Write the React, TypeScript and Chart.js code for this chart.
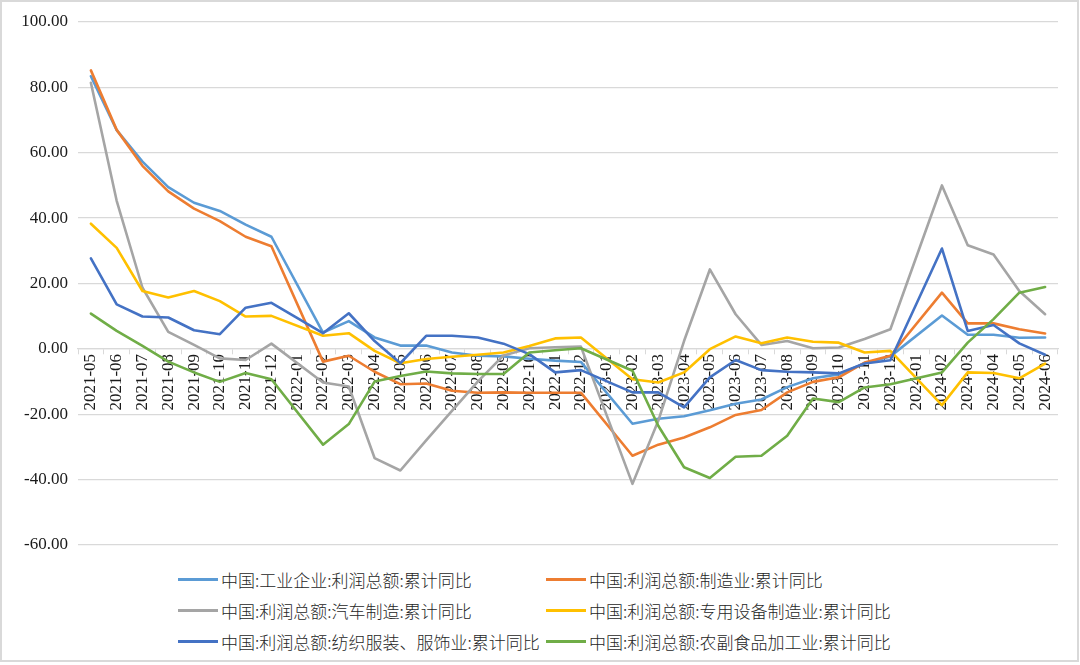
import React, { useEffect, useRef } from "react";
import { Chart, registerables } from "chart.js";

Chart.register(...registerables);

const months = [
  "2021-05", "2021-06", "2021-07", "2021-08", "2021-09", "2021-10", "2021-11", "2021-12",
  "2022-01", "2022-02", "2022-03", "2022-04", "2022-05", "2022-06", "2022-07", "2022-08",
  "2022-09", "2022-10", "2022-11", "2022-12", "2023-01", "2023-02", "2023-03", "2023-04",
  "2023-05", "2023-06", "2023-07", "2023-08", "2023-09", "2023-10", "2023-11", "2023-12",
  "2024-01", "2024-02", "2024-03", "2024-04", "2024-05", "2024-06",
];

const industrial = [
  83.4, 66.9, 57.3, 49.5, 44.7, 42.2, 38.0, 34.3,
  null, 5.0, 8.5, 3.5, 1.0, 1.0, -1.1, -2.1,
  -2.3, -3.0, -3.6, -4.0, null, -22.9, -21.4, -20.6,
  -18.8, -16.8, -15.5, -11.7, -9.0, -7.8, -4.4, -2.3,
  null, 10.2, 4.3, 4.3, 3.4, 3.5,
];

const manufacturing = [
  85.2, 67.0, 56.0, 48.2, 42.9, 39.1, 34.3, 31.4,
  null, -3.9, -2.1, -7.0, -10.8, -10.6, -12.8, -13.4,
  -13.3, -13.4, -13.4, -13.4, null, -32.7, -29.3, -27.1,
  -24.0, -20.2, -18.7, -13.3, -10.1, -8.7, -4.2, -2.1,
  null, 17.2, 7.8, 7.8, 6.0, 4.7,
];

const auto = [
  81.4, 45.3, 18.7, 5.2, 1.2, -2.9, -3.4, 1.6,
  null, -10.3, -11.5, -33.4, -37.2, -28.0, -19.0, -10.0,
  -2.0, 0.2, 0.5, 0.7, null, -41.3, -22.0, 2.4,
  24.3, 10.6, 1.2, 2.4, 0.2, 0.4, 3.0, 6.0,
  null, 50.0, 31.7, 28.9, 17.7, 10.6,
];

const equipment = [
  38.3, 30.9, 17.7, 15.7, 17.7, 14.6, 9.9, 10.1,
  null, 4.0, 4.8, -0.6, -4.4, -3.1, -2.4, -1.8,
  -1.1, 0.9, 3.2, 3.5, null, -9.3, -10.3, -7.2,
  -0.1, 3.8, 1.7, 3.5, 2.2, 1.9, -1.1, -0.6,
  null, -17.2, -7.2, -7.4, -9.0, -4.5,
];

const textile = [
  27.7, 13.6, 9.9, 9.6, 5.7, 4.5, 12.6, 14.1,
  null, 4.8, 10.9, 2.4, -4.4, 4.0, 4.0, 3.5,
  1.6, -1.6, -7.2, -6.5, null, -13.3, -13.3, -17.9,
  -8.7, -3.4, -6.5, -7.0, -7.2, -7.5, -4.5, -3.5,
  null, 30.7, 5.5, 7.3, 1.7, -1.8,
];

const agriFood = [
  10.8, 5.5, 0.9, -3.9, -7.2, -10.1, -7.4, -9.3,
  null, -29.3, -23.0, -10.0, -8.3, -6.9, -7.5, -7.7,
  -7.7, -1.1, -0.4, 0.2, null, -6.7, -23.5, -36.2,
  -39.5, -33.0, -32.7, -26.6, -15.2, -16.3, -11.8, -10.8,
  null, -7.2, 1.9, 9.1, 17.2, 18.9,
];

const seriesNames = [
  "中国:工业企业:利润总额:累计同比",
  "中国:利润总额:制造业:累计同比",
  "中国:利润总额:汽车制造:累计同比",
  "中国:利润总额:专用设备制造业:累计同比",
  "中国:利润总额:纺织服装、服饰业:累计同比",
  "中国:利润总额:农副食品加工业:累计同比",
];

const seriesColors = ["#5B9BD5", "#ED7D31", "#A5A5A5", "#FFC000", "#4472C4", "#70AD47"];

const seriesValues = [industrial, manufacturing, auto, equipment, textile, agriFood];

const yMin = -60;
const yMax = 100;
const yStep = 20;

const SERIF = "'Liberation Serif', 'Times New Roman', serif";
const CJK = "'Noto Sans CJK SC', 'Noto Sans', sans-serif";

export default function App() {
  const canvasRef = useRef<HTMLCanvasElement | null>(null);

  useEffect(() => {
    document.body.style.margin = "0";
    const canvas = canvasRef.current;
    if (!canvas) return;
    const chart = new Chart(canvas, {
      type: "line",
      data: {
        labels: months,
        datasets: seriesValues.map((vals, i) => ({
          label: seriesNames[i],
          data: vals,
          borderColor: seriesColors[i],
          backgroundColor: seriesColors[i],
          borderWidth: 2.6,
          pointRadius: 0,
          pointHoverRadius: 0,
          tension: 0,
          spanGaps: true,
          fill: false,
          borderJoinStyle: "round" as const,
          borderCapStyle: "round" as const,
          order: 6 - i,
        })),
      },
      options: {
        responsive: false,
        animation: false,
        events: [],
        layout: { padding: { top: 22, bottom: 15, left: 0, right: 22 } },
        plugins: {
          legend: { display: false },
          tooltip: { enabled: false },
          title: { display: false },
        },
        scales: {
          x: {
            type: "category",
            position: { y: 0 } as any,
            offset: true,
            grid: {
              drawOnChartArea: false,
              drawTicks: true,
              tickLength: 5,
              color: "#D9D9D9",
              offset: true,
            },
            border: { display: true, color: "#D9D9D9", width: 1.3 },
            ticks: {
              autoSkip: false,
              maxRotation: 90,
              minRotation: 90,
              padding: 0,
              color: "#1a1a1a",
              font: { family: SERIF, size: 17 },
            },
            afterFit: (scale: any) => {
              scale.paddingLeft = 0;
              scale.paddingRight = 0;
            },
          },
          y: {
            type: "linear",
            min: yMin,
            max: yMax,
            grid: { color: "#D9D9D9", lineWidth: 1.3, drawTicks: false },
            border: { display: false },
            ticks: {
              stepSize: yStep,
              padding: 10,
              color: "#1a1a1a",
              font: { family: SERIF, size: 17 },
              callback: (v: any) => Number(v).toFixed(2),
            },
            afterFit: (scale: any) => {
              scale.width = 78;
              scale.paddingTop = 0;
              scale.paddingBottom = 0;
            },
          },
        },
      },
    });
    return () => chart.destroy();
  }, []);

  const legendRows = [0, 2, 4];

  return (
    <div
      style={{
        position: "relative",
        width: 1080,
        height: 665,
        boxSizing: "border-box",
        background: "#ffffff",
      }}
    >
      <div
        style={{
          position: "absolute",
          left: 0,
          top: 0,
          width: 1079,
          height: 662,
          boxSizing: "border-box",
          border: "2px solid #D9D9D9",
        }}
      />
      <canvas
        ref={canvasRef}
        width={1080}
        height={560}
        style={{ position: "absolute", left: 0, top: 0, width: 1080, height: 560 }}
      />
      {legendRows.map((startIdx, r) =>
        [startIdx, startIdx + 1].map((idx, c) => (
          <div
            key={idx}
            style={{
              position: "absolute",
              left: c === 0 ? 178 : 546,
              top: 579 + r * 31 - 12,
              height: 24,
              display: "flex",
              alignItems: "center",
              whiteSpace: "nowrap",
            }}
          >
            <span
              style={{
                display: "inline-block",
                width: 40,
                height: 3,
                background: seriesColors[idx],
                marginRight: 3,
              }}
            />
            <span
              style={{
                fontFamily: CJK,
                fontSize: 17,
                color: "#262626",
                fontWeight: 300,
              }}
            >
              {seriesNames[idx]}
            </span>
          </div>
        ))
      )}
    </div>
  );
}
